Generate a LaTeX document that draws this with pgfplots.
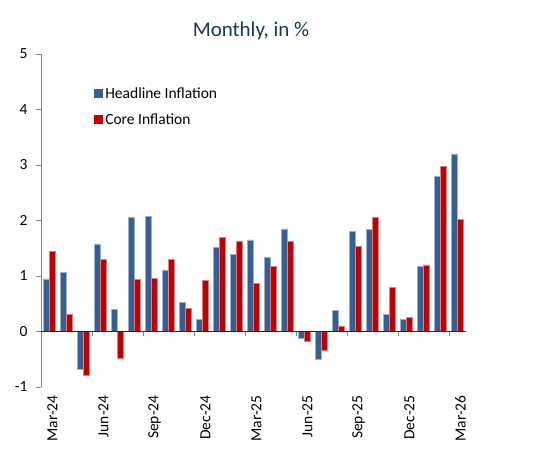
\documentclass[border=0pt]{standalone}
\usepackage{pgfplots}
\pgfplotsset{compat=1.18}
\usepackage{fontspec}
\setmainfont{Carlito}
\definecolor{hblue}{HTML}{376092}
\definecolor{cred}{HTML}{C00000}
\definecolor{ttl}{HTML}{17375E}
\definecolor{axgray}{HTML}{868686}
\begin{document}
\begin{tikzpicture}
\useasboundingbox (-41bp,-74bp) rectangle (493bp,387bp);
\begin{axis}[
  scale only axis, width=425bp, height=333bp,
  at={(0bp,0bp)}, anchor=south west,
  xmin=-0.5, xmax=24.5, ymin=-1, ymax=5,
  ytick={-1,0,...,5},
  xtick={0,3,...,24},
  xticklabels={Mar-24,Jun-24,Sep-24,Dec-24,Mar-25,Jun-25,Sep-25,Dec-25,Mar-26},
  axis y line*=left, axis x line*=bottom,
  x axis line style={draw=none},
  xtick style={draw=none},
  y axis line style={draw=axgray, line width=0.9bp, -},
  ytick style={draw=axgray, line width=0.9bp},
  tick align=outside, major tick length=5bp,
  ticklabel style={font=\fontsize{15.5bp}{18bp}\selectfont},
  /pgf/number format/assume math mode=true,
  yticklabel style={xshift=-5bp},
  xticklabel style={rotate=90, anchor=east, yshift=-3bp},
  ybar=0pt, bar width=6bp,
  clip=false,
  legend style={draw=none, fill=none, at={(0.125,0.906)}, anchor=north west,
    font=\fontsize{15.5bp}{18bp}\selectfont, row sep=10bp, inner sep=0pt},
  legend cell align=left,
  legend image code/.code={\path[#1, draw=none] (0bp,-4.5bp) rectangle (9bp,4.5bp);},
]
\addplot[fill=hblue, draw=hblue!50!white, line width=0.5bp] coordinates {
(0,0.95) (1,1.06) (2,-0.68) (3,1.58) (4,0.40) (5,2.05) (6,2.08) (7,1.11) (8,0.52)
(9,0.22) (10,1.52) (11,1.39) (12,1.65) (13,1.33) (14,1.85) (15,-0.12) (16,-0.50)
(17,0.38) (18,1.81) (19,1.84) (20,0.31) (21,0.22) (22,1.17) (23,2.80) (24,3.20)};
\addlegendentry{Headline Inflation}
\addplot[fill=cred, draw=cred!50!white, line width=0.5bp] coordinates {
(0,1.44) (1,0.31) (2,-0.79) (3,1.30) (4,-0.48) (5,0.94) (6,0.96) (7,1.30) (8,0.42)
(9,0.92) (10,1.69) (11,1.63) (12,0.87) (13,1.18) (14,1.63) (15,-0.18) (16,-0.33)
(17,0.10) (18,1.53) (19,2.05) (20,0.80) (21,0.25) (22,1.20) (23,2.97) (24,2.02)};
\addlegendentry{Core Inflation}
\draw[black!85, line width=0.9bp] (axis cs:-0.5,0) -- (axis cs:24.5,0);
\draw[axgray, line width=0.9bp] (axis cs:2.5,0) -- ([yshift=-4bp]axis cs:2.5,0);
\draw[axgray, line width=0.9bp] (axis cs:5.5,0) -- ([yshift=-4bp]axis cs:5.5,0);
\draw[axgray, line width=0.9bp] (axis cs:8.5,0) -- ([yshift=-4bp]axis cs:8.5,0);
\draw[axgray, line width=0.9bp] (axis cs:11.5,0) -- ([yshift=-4bp]axis cs:11.5,0);
\draw[axgray, line width=0.9bp] (axis cs:14.5,0) -- ([yshift=-4bp]axis cs:14.5,0);
\draw[axgray, line width=0.9bp] (axis cs:17.5,0) -- ([yshift=-4bp]axis cs:17.5,0);
\draw[axgray, line width=0.9bp] (axis cs:20.5,0) -- ([yshift=-4bp]axis cs:20.5,0);
\draw[axgray, line width=0.9bp] (axis cs:23.5,0) -- ([yshift=-4bp]axis cs:23.5,0);
\end{axis}
\node[font=\fontsize{21bp}{24bp}\selectfont, text=ttl] at (210bp,356bp) {Monthly, in \%};
\end{tikzpicture}
\end{document}
